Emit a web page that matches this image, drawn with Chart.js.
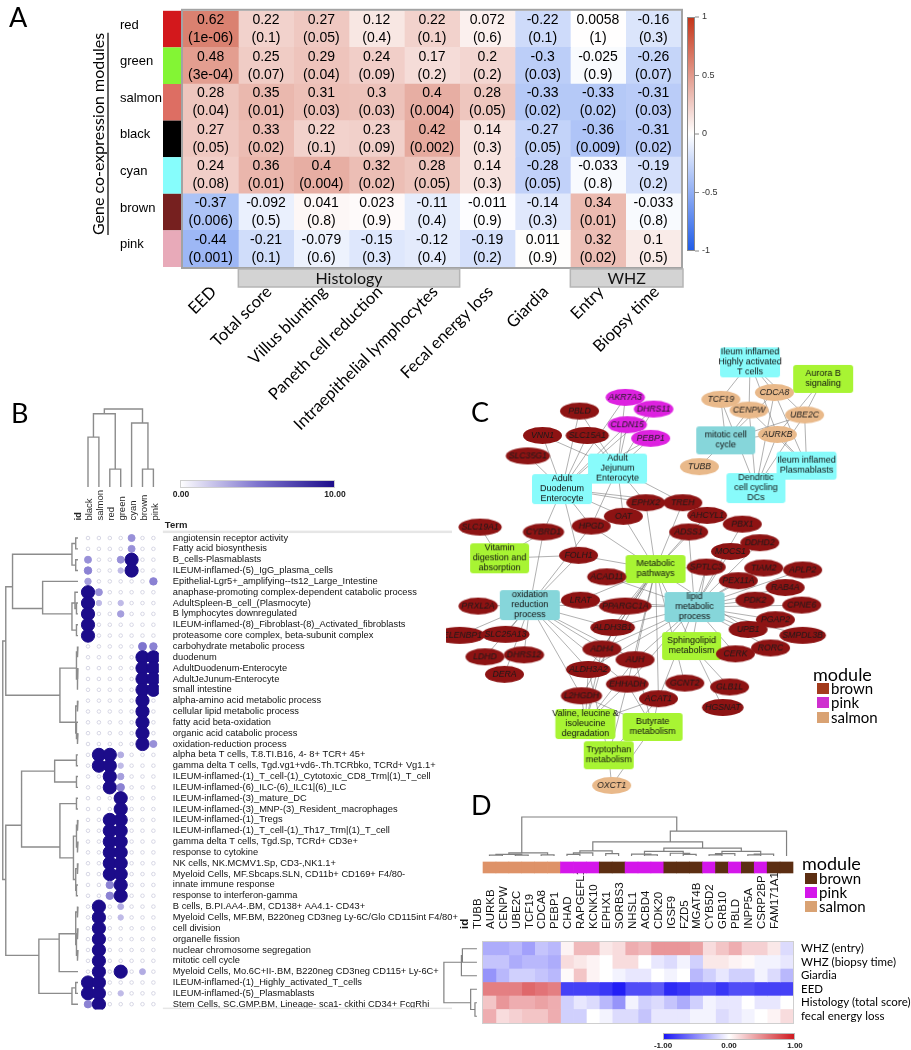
<!DOCTYPE html>
<html><head><meta charset="utf-8">
<script src="https://cdn.jsdelivr.net/npm/chart.js@4.4.1/dist/chart.umd.min.js"></script>
<style>
body{margin:0;background:#fff;width:911px;height:1050px;overflow:hidden;position:relative;font-family:'Liberation Sans',Arial,sans-serif}
canvas{position:absolute}
.lt{position:absolute;font-family:Lato,'Open Sans',sans-serif;color:#000;line-height:1;white-space:nowrap}
.sw{position:absolute;width:12px;height:11px}
</style></head><body>
<canvas id="cA" width="911" height="450" style="left:0px;top:0px"></canvas>
<canvas id="cB" width="460" height="650" style="left:0px;top:400px"></canvas>
<canvas id="cC" width="471" height="480" style="left:440px;top:330px"></canvas>
<canvas id="cD" width="471" height="250" style="left:440px;top:800px"></canvas>

<div class="lt" style="left:9px;top:3px;font-size:27px">A</div>
<div class="lt" style="left:11px;top:399px;font-size:27px">B</div>
<div class="lt" style="left:471px;top:398px;font-size:27px">C</div>
<div class="lt" style="left:471px;top:791px;font-size:27px">D</div>

<div class="lt" style="left:813px;top:665px;font-size:18px">module</div>
<div class="sw" style="left:817px;top:683px;background:#a33b1c"></div><div class="lt" style="left:831px;top:681px;font-size:15px">brown</div>
<div class="sw" style="left:817px;top:697px;background:#cf2fcf"></div><div class="lt" style="left:831px;top:695px;font-size:15px">pink</div>
<div class="sw" style="left:817px;top:712px;background:#d9a273"></div><div class="lt" style="left:831px;top:710px;font-size:15px">salmon</div>

<div class="lt" style="left:802px;top:854px;font-size:18px">module</div>
<div class="sw" style="left:805px;top:873px;background:#5c2e12"></div><div class="lt" style="left:819px;top:871px;font-size:15px">brown</div>
<div class="sw" style="left:805px;top:887px;background:#d416ea"></div><div class="lt" style="left:819px;top:885px;font-size:15px">pink</div>
<div class="sw" style="left:805px;top:901px;background:#d9a273"></div><div class="lt" style="left:819px;top:899px;font-size:15px">salmon</div>

<script>
// ======================= PANEL A DATA =======================
const modulesA = ['red','green','salmon','black','cyan','brown','pink'];
const traitsA = ['EED','Total score','Villus blunting','Paneth cell reduction','Intraepithelial lymphocytes','Fecal energy loss','Giardia','Entry','Biopsy time'];
const corrRed    = [0.62, 0.22, 0.27, 0.12, 0.22, 0.072, -0.22, 0.0058, -0.16];
const corrGreen  = [0.48, 0.25, 0.29, 0.24, 0.17, 0.2, -0.3, -0.025, -0.26];
const corrSalmon = [0.28, 0.35, 0.31, 0.3, 0.4, 0.28, -0.33, -0.33, -0.31];
const corrBlack  = [0.27, 0.33, 0.22, 0.23, 0.42, 0.14, -0.27, -0.36, -0.31];
const corrCyan   = [0.24, 0.36, 0.4, 0.32, 0.28, 0.14, -0.28, -0.033, -0.19];
const corrBrown  = [-0.37, -0.092, 0.041, 0.023, -0.11, -0.011, -0.14, 0.34, -0.033];
const corrPink   = [-0.44, -0.21, -0.079, -0.15, -0.12, -0.19, 0.011, 0.32, 0.1];
const pRed    = ['1e-06','0.1','0.05','0.4','0.1','0.6','0.1','1','0.3'];
const pGreen  = ['3e-04','0.07','0.04','0.09','0.2','0.2','0.03','0.9','0.07'];
const pSalmon = ['0.04','0.01','0.03','0.03','0.004','0.05','0.02','0.02','0.03'];
const pBlack  = ['0.05','0.02','0.1','0.09','0.002','0.3','0.05','0.009','0.02'];
const pCyan   = ['0.08','0.01','0.004','0.02','0.05','0.3','0.05','0.8','0.2'];
const pBrown  = ['0.006','0.5','0.8','0.9','0.4','0.9','0.3','0.01','0.8'];
const pPink   = ['0.001','0.1','0.6','0.3','0.4','0.2','0.9','0.02','0.5'];
const groupNamesA = ['Histology','WHZ'];
const groupStartA = [1, 7];
const groupEndA   = [5, 9];
const colorbarTicksA = [1, 0.5, 0, -0.5, -1];

// ======================= PANEL B DATA =======================
const modulesB = ['black','salmon','red','green','cyan','brown','pink'];
const termsB = [
 'angiotensin receptor activity','Fatty acid biosynthesis','B_cells-Plasmablasts','ILEUM-inflamed-(5)_IgG_plasma_cells',
 'Epithelial-Lgr5+_amplifying--ts12_Large_Intestine','anaphase-promoting complex-dependent catabolic process',
 'AdultSpleen-B_cell_(Plasmocyte)','B lymphocytes downregulated','ILEUM-inflamed-(8)_Fibroblast-(8)_Activated_fibroblasts',
 'proteasome core complex, beta-subunit complex','carbohydrate metabolic process','duodenum','AdultDuodenum-Enterocyte',
 'AdultJeJunum-Enterocyte','small intestine','alpha-amino acid metabolic process','cellular lipid metabolic process',
 'fatty acid beta-oxidation','organic acid catabolic process','oxidation-reduction process',
 'alpha beta T cells, T.8.TI.B16, 4- 8+ TCR+ 45+','gamma delta T cells, Tgd.vg1+vd6-.Th.TCRbko, TCRd+ Vg1.1+',
 'ILEUM-inflamed-(1)_T_cell-(1)_Cytotoxic_CD8_Trm|(1)_T_cell','ILEUM-inflamed-(6)_ILC-(6)_ILC1|(6)_ILC',
 'ILEUM-inflamed-(3)_mature_DC','ILEUM-inflamed-(3)_MNP-(3)_Resident_macrophages','ILEUM-inflamed-(1)_Tregs',
 'ILEUM-inflamed-(1)_T_cell-(1)_Th17_Trm|(1)_T_cell','gamma delta T cells, Tgd.Sp, TCRd+ CD3e+','response to cytokine',
 'NK cells, NK.MCMV1.Sp, CD3-,NK1.1+','Myeloid Cells, MF.Sbcaps.SLN, CD11b+ CD169+ F4/80-','innate immune response',
 'response to interferon-gamma','B cells, B.PI.AA4-.BM, CD138+ AA4.1- CD43+',
 'Myeloid Cells, MF.BM, B220neg CD3neg Ly-6C/Glo CD115int F4/80+','cell division','organelle fission',
 'nuclear chromosome segregation','mitotic cell cycle','Myeloid Cells, Mo.6C+II-.BM, B220neg CD3neg CD115+ Ly-6C+',
 'ILEUM-inflamed-(1)_Highly_activated_T_cells','ILEUM-inflamed-(5)_Plasmablasts',
 'Stem Cells, SC.GMP.BM, Lineage- sca1- ckithi CD34+ FcgRhi'];
const enrichBlack  = [0,0,4,4.5,3.5,10,10,10,10,10, 0,0,0,0,0,0,0,0,0,0, 0,0,0,0,0,0,0,0,0,0, 0,0,0,0,0,0,0,0,0,0, 0,10,10,4.5];
const enrichSalmon = [0,0,0,0,0,4,2.5,0,0,0, 0,0,0,0,0,0,0,0,0,0, 10,10,0,0,0,0,0,0,0,0, 0,0,0,0,10,10,10,10,10,10, 10,10,10,10];
const enrichRed    = [0,0,0,0,0,0,0,0,0,0, 0,0,0,0,0,0,0,0,0,0, 10,10,10,10,0,0,10,10,10,10, 10,10,4.5,4.5,0,0,0,0,0,0, 0,0,0,0];
const enrichGreen  = [0,0,4,2.5,0,0,2.5,3.5,0,0, 0,0,0,0,0,0,0,0,0,0, 3,2.5,3.5,4.5,10,10,10,10,10,10, 10,10,10,10,3,2.5,0,0,0,0, 10,0,2.5,0];
const enrichCyan   = [4,4,10,10,0,0,0,0,0,0, 0,0,0,0,0,0,0,0,0,0, 0,0,0,0,0,0,0,0,0,0, 0,0,0,0,0,0,0,0,0,0, 0,0,0,0];
const enrichBrown  = [0,0,0,0,0,0,0,0,0,0, 5,10,10,10,10,10,10,10,10,10, 0,0,0,0,0,0,0,0,0,0, 0,0,0,0,0,0,0,0,0,0, 3,0,0,0];
const enrichPink   = [0,0,0,0,4.5,0,0,0,0,0, 4.5,10,10,10,10,0,0,0,0,4, 0,0,0,0,0,0,0,0,0,0, 0,0,0,0,0,0,0,0,0,0, 0,0,0,0];
// dendrograms: [height, left, right], leaves are indices
const termTreeB = [1.0,
  [0.96, [0.87, [0.08,[0.03,0,1],[0.03,2,3]], [0.47,4,[0.08,[0.04,5,[0.02,6,7]],[0.02,8,9]]]],
         [0.24, [0.02,[0.01,10,11],[0.01,[0.005,12,13],14]], [0.03,[0.01,15,16],[0.02,17,[0.01,18,19]]]]],
  [0.96, [0.75, [0.31,[0.02,20,21],[0.02,22,23]],
                [0.24,[0.02,24,25],[0.06,[0.02,[0.01,26,27],[0.01,28,29]],[0.03,[0.01,30,31],[0.02,32,33]]]]],
         [0.52, [0.25,[0.03,[0.01,34,35],[0.02,[0.01,36,37],[0.01,38,39]]],40], [0.08,[0.03,41,42],43]]]];
const moduleTreeB = [1.0, [0.94,[0.64,0,1],[0.23,2,3]], [0.82,4,[0.23,5,6]]];

// ======================= PANEL C DATA =======================
const termNames = ['Ileum inflamed\nHighly activated\nT cells','Aurora B\nsignaling','mitotic cell\ncycle','Ileum inflamed\nPlasmablasts',
 'Dendritic\ncell cycling\nDCs','Adult\nJejunum\nEnterocyte','Adult\nDuodenum\nEnterocyte','Vitamin\ndigestion and\nabsorption',
 'Metabolic\npathways','oxidation\nreduction\nprocess','lipid\nmetabolic\nprocess','Sphingolipid\nmetabolism',
 'Valine, leucine &\nisoleucine\ndegradation','Butyrate\nmetabolism','Tryptophan\nmetabolism'];
const termKind = ['cell','path','go','cell','cell','cell','cell','path','path','go','go','path','path','path','path'];
const termX = [752,827,727,810,758,616,559,495,655,526,695,692,583,652,607];
const termY = [357,374,437,463,486,466,487,558,569,606,608,648,728,731,760];
const geneNames = ['TCF19','CDCA8','CENPW','UBE2C','AURKB','TUBB','OXCT1','AKR7A3','DHRS11','CLDN15','PEBP1',
 'PBLD','VNN1','SLC15A1','SLC35G1','EPHX2','TREH','OAT','AHCYL1','HPGD','CYBRD1','SLC19A1','PBX1','ADSS1','DDHD2',
 'MOCS1','FOLH1','SPTLC3','TIAM2','APLP2','ACAD11','PEX11A','RAB4A','LRAT','PPARGC1A','PDK2','CPNE6','PRXL2A',
 'PGAP2','ALDH3B1','UPB1','SMPDL3B','SELENBP1','SLC25A13','ADH4','CERK','RORC','LDHD','DHRS12','AUH','DERA',
 'ALDH3A2','EHHADH','GCNT2','GLB1L','L2HGDH','ACAT1','HGSNAT'];
const geneModule = ['salmon','salmon','salmon','salmon','salmon','salmon','salmon','pink','pink','pink','pink',
 'brown','brown','brown','brown','brown','brown','brown','brown','brown','brown','brown','brown','brown','brown',
 'brown','brown','brown','brown','brown','brown','brown','brown','brown','brown','brown','brown','brown',
 'brown','brown','brown','brown','brown','brown','brown','brown','brown','brown','brown','brown','brown',
 'brown','brown','brown','brown','brown','brown','brown'];
const geneX = [722,777,751,808,780,700,610,624,653,626,650,577,539,585,524,645,683,622,708,589,540,475,744,689,762,
 732,576,707,766,806,605,740,788,578,624,757,805,473,778,611,750,806,454,501,600,737,773,480,520,634,500,586,626,685,731,579,658,724];
const geneY = [395,388,406,411,431,464,791,393,405,421,435,407,432,432,453,501,501,515,514,525,531,526,523,531,542,
 551,555,567,568,570,577,581,588,601,607,601,606,607,621,629,631,637,637,636,651,656,650,659,657,662,677,672,687,686,690,699,702,711];
const termLinks = [
 ['TCF19','CENPW','CDCA8','AURKB','UBE2C'],
 ['UBE2C','AURKB'],
 ['TCF19','CENPW','CDCA8','AURKB','UBE2C','TUBB'],
 ['CDCA8','UBE2C','AURKB','CENPW'],
 ['TCF19','CENPW','CDCA8','AURKB','UBE2C'],
 ['AKR7A3','DHRS11','CLDN15','PEBP1','SLC15A1','PBLD','HPGD','OAT','EPHX2','TREH','VNN1'],
 ['AKR7A3','DHRS11','CLDN15','PEBP1','SLC15A1','PBLD','VNN1','SLC35G1','CYBRD1','HPGD','FOLH1','OAT','EPHX2','TREH'],
 ['SLC19A1','CYBRD1','FOLH1'],
 ['EPHX2','OAT','HPGD','TREH','AHCYL1','ADSS1','FOLH1','ACAD11','SPTLC3','PPARGC1A','ALDH3B1','ADH4','AUH','ALDH3A2','EHHADH','ACAT1','L2HGDH','GCNT2','UPB1','LRAT','HGSNAT'],
 ['PRXL2A','SELENBP1','SLC25A13','LDHD','DHRS12','DERA','CYBRD1','HPGD','FOLH1','ALDH3B1','ADH4','ALDH3A2','EHHADH','L2HGDH','AUH','PPARGC1A','LRAT'],
 ['PBX1','DDHD2','MOCS1','SPTLC3','TIAM2','APLP2','PEX11A','RAB4A','PDK2','CPNE6','PGAP2','UPB1','SMPDL3B','CERK','RORC','ACAD11','PPARGC1A','ALDH3B1','ADH4','AUH','EHHADH','ACAT1','ALDH3A2','LRAT','ADSS1'],
 ['SPTLC3','CERK','GLB1L'],
 ['ALDH3A2','EHHADH','AUH','ACAT1','ALDH3B1','ADH4','L2HGDH'],
 ['EHHADH','ACAT1','L2HGDH','AUH','OXCT1'],
 ['EHHADH','ACAT1','ALDH3A2','OXCT1']];

// ======================= PANEL D DATA =======================
const genesD = ['TUBB','AURKB','CENPW','UBE2C','TCF19','CDCA8','PEBP1','CHAD','RAPGEFL1','KCNK10','EPHX1','SORBS3','NHSL1','ACBD4','CDK20','IGSF9','FZD5','MGAT4B','CYB5D2','GRB10','PBLD','INPP5A','CSRP2BP','FAM171A1'];
const moduleD = ['salmon','salmon','salmon','salmon','salmon','salmon','pink','pink','pink','brown','brown','pink','pink','pink','brown','brown','brown','pink','brown','pink','brown','pink','brown','brown'];
const rowsD = ['WHZ (entry)','WHZ (biopsy time)','Giardia','EED','Histology (total score)','fecal energy loss'];
const hmWhzEntry  = [-0.35,-0.35,-0.3,-0.4,-0.25,-0.3, 0.05,0.3,0.3,0.1,0.15,0.35,0.3,0.45,0.45,0.45,0.4,0.15,0.25,0.35,0.2,0.2,0.1,-0.15];
const hmWhzBiopsy = [-0.25,-0.25,-0.35,-0.3,-0.3,-0.35, 0.15,0.1,0.05,0.0,0.15,0.15,0.0,-0.1,-0.15,-0.05,-0.2,0.1,0.1,0.05,0.02,-0.05,-0.05,-0.1];
const hmGiardia   = [-0.45,-0.3,-0.2,-0.2,-0.25,-0.3, 0.02,0.25,0.05,0.0,-0.05,-0.1,-0.1,0.0,-0.05,0.0,-0.3,-0.2,-0.1,-0.2,-0.2,-0.05,-0.15,-0.3];
const hmEED       = [0.55,0.55,0.55,0.65,0.6,0.55, -0.8,-0.8,-0.8,-0.85,-0.95,-0.75,-0.75,-0.7,-0.9,-0.85,-0.75,-0.75,-0.85,-0.75,-0.75,-0.8,-0.8,-0.8];
const hmHistology = [0.25,0.45,0.35,0.35,0.4,0.35, -0.2,-0.1,-0.15,-0.3,-0.45,-0.05,-0.2,-0.15,-0.25,-0.35,-0.2,-0.05,-0.1,-0.1,0.0,-0.1,-0.1,0.0];
const hmFecal     = [0.35,0.15,0.2,0.25,0.25,0.35, -0.2,-0.2,0.0,-0.05,-0.15,-0.15,-0.25,-0.1,-0.1,-0.1,-0.05,-0.05,-0.15,-0.1,-0.05,0.0,0.05,0.15];
const geneTreeD = [1.0,
  [0.08,[0.04,[0.02,0,1],[0.02,2,3]],[0.03,4,5]],
  [0.64,[0.36,[0.13,[0.08,[0.04,6,7],8],[0.06,9,10]],
              [0.2,[0.12,[0.05,11,[0.03,12,13]],[0.07,14,[0.04,15,16]]],
                   [0.12,[0.06,[0.03,17,18],19],[0.05,[0.03,20,21],22]]]],23]];
const rowTreeD = [1.0,[0.47,[0.44,0,1],2],[0.19,3,[0.06,4,5]]];
const colorbarTicksD = [-1, 0, 1];

// ======================= STYLE / HELPERS =======================
const swatchA = {red:'#d3181c',green:'#83f534',salmon:'#dd6e63',black:'#000000',cyan:'#86fdfc',brown:'#76201f',pink:'#e8aab9'};
const moduleColC = {brown:'#8d1313',pink:'#dd22e0',salmon:'#e9b98a'};
const moduleColD = {brown:'#5c2e12',pink:'#d416ea',salmon:'#de9268'};
const termFill = {cell:'#88fbfb',go:'#86d6da',path:'#a8f433'};
const termBoxW = [60,60,59,60,59,59,60,59,60,60,60,59,60,60,50];

const corrA = [corrRed,corrGreen,corrSalmon,corrBlack,corrCyan,corrBrown,corrPink];
const pA = [pRed,pGreen,pSalmon,pBlack,pCyan,pBrown,pPink];
const enrichB = [enrichBlack,enrichSalmon,enrichRed,enrichGreen,enrichCyan,enrichBrown,enrichPink];
const hmD = [hmWhzEntry,hmWhzBiopsy,hmGiardia,hmEED,hmHistology,hmFecal];

function lerp(a,b,t){return a.map((v,i)=>Math.round(v+(b[i]-v)*t));}
function rgb(c){return `rgb(${c[0]},${c[1]},${c[2]})`;}
function colA(v){const t=Math.min(1,Math.abs(v));return rgb(lerp([255,255,255], v>=0?[196,52,24]:[32,92,232], t));}
function colD(v){const t=Math.min(1,Math.abs(v));return rgb(lerp([255,255,255], v>=0?[206,22,28]:[22,18,244], t));}
function colB(v){const t=Math.min(1,v/10);const mid=[126,116,206],end=[28,12,138];
  return t<=0.5?rgb(lerp([255,255,255],mid,t/0.5)):rgb(lerp(mid,end,(t-0.5)/0.5));}
function rB(v){return v>0?1.4+0.52*v:1.8;}

function dendroPoints(tree, leafPos, hPos, vertical){
  const pts=[];
  const P=(l,h)=> vertical?{x:l,y:hPos(h)}:{x:hPos(h),y:l};
  (function walk(n){
    if(typeof n==='number') return {p:leafPos(n),h:0,s:leafPos(n),k:1};
    const [h,a,b]=n; const A=walk(a), B=walk(b);
    pts.push(P(A.p,A.h),P(A.p,h),P(B.p,h),P(B.p,B.h),{x:null,y:null});
    const s=A.s+B.s,k=A.k+B.k; return {p:s/k,h,s,k};
  })(tree);
  return pts;
}

Chart.defaults.font.family = "'Liberation Sans', Arial, sans-serif";
Chart.defaults.color = '#000';

// ======================= CHART A =======================
const pluginA = {
  id:'pA',
  afterDatasetsDraw(chart){
    const ctx=chart.ctx;
    ctx.save();
    ctx.fillStyle='#000'; ctx.font="14px 'Liberation Sans'"; ctx.textAlign='center'; ctx.textBaseline='middle';
    traitsA.forEach((t,c)=>{
      const meta=chart.getDatasetMeta(c);
      modulesA.forEach((m,r)=>{
        const pt=meta.data[r].getCenterPoint();
        ctx.fillText(String(corrA[r][c]), pt.x, pt.y-9);
        ctx.fillText('('+pA[r][c]+')', pt.x, pt.y+9);
      });
    });
    ctx.restore();
  },
  afterDraw(chart){
    const {ctx, chartArea:ca, scales:{x,y}}=chart;
    ctx.save();
    const band=(ca.bottom-ca.top)/modulesA.length;
    modulesA.forEach((m,r)=>{const yc=y.getPixelForValue(r); ctx.fillStyle=swatchA[m]; ctx.fillRect(ca.left-20, yc-band/2, 18, band);});
    ctx.strokeStyle='#a3a3a3'; ctx.lineWidth=2; ctx.strokeRect(ca.left-1, ca.top-1, ca.right-ca.left+2, ca.bottom-ca.top+2);
    groupNamesA.forEach((g,i)=>{
      const x0=x.getPixelForValue(groupStartA[i]), x1=x.getPixelForValue(groupEndA[i])+(i===1?2:0);
      ctx.fillStyle='#d3d3d3'; ctx.fillRect(x0, ca.bottom+2, x1-x0, 18);
      ctx.strokeStyle='#b5b5b5'; ctx.lineWidth=1.5; ctx.strokeRect(x0, ca.bottom+2, x1-x0, 18);
      ctx.fillStyle='#111'; ctx.font="16px Lato"; ctx.textAlign='center'; ctx.textBaseline='middle';
      ctx.fillText(g,(x0+x1)/2, ca.bottom+11.5);
    });
    ctx.save(); ctx.translate(99,(ca.top+ca.bottom)/2-5); ctx.rotate(-Math.PI/2);
    ctx.font="16px Lato"; ctx.fillStyle='#000'; ctx.textAlign='center'; ctx.textBaseline='middle';
    const ttl='Gene co-expression modules'; ctx.fillText(ttl,0,0);
    const w=ctx.measureText(ttl).width; ctx.strokeStyle='#000'; ctx.lineWidth=1.2;
    ctx.beginPath(); ctx.moveTo(-w/2,9); ctx.lineTo(w/2,9); ctx.stroke(); ctx.restore();
    const cx=ca.right+6, cy0=17, cy1=251;
    const gr=ctx.createLinearGradient(0,cy0,0,cy1);
    for(let i=0;i<=20;i++){gr.addColorStop(i/20, colA(1-i/10));}
    ctx.fillStyle=gr; ctx.fillRect(cx,cy0,8,cy1-cy0);
    ctx.strokeStyle='#8a8a8a'; ctx.lineWidth=1; ctx.strokeRect(cx+0.5,cy0+0.5,7,cy1-cy0-1);
    ctx.font="9px 'Liberation Sans'"; ctx.fillStyle='#333'; ctx.textAlign='left'; ctx.textBaseline='middle';
    colorbarTicksA.forEach(v=>{const py=cy0+(1-v)/2*(cy1-cy0);
      ctx.beginPath(); ctx.moveTo(cx+8,py); ctx.lineTo(cx+12,py); ctx.stroke();
      ctx.fillText(String(v), cx+15, py);});
    ctx.restore();
  }
};
new Chart(document.getElementById('cA'), {
  type:'bar',
  data:{labels:modulesA,
    datasets:traitsA.map((t,c)=>({label:t, data:modulesA.map(()=>[c,c+1]),
      backgroundColor:modulesA.map((m,r)=>colA(corrA[r][c])), borderWidth:0, grouped:false,
      barPercentage:1, categoryPercentage:1}))},
  options:{indexAxis:'y', responsive:false, animation:false, events:[],
    layout:{padding:{left:120, top:3, right:230, bottom:0}},
    plugins:{legend:{display:false}, tooltip:{enabled:false}},
    scales:{
      x:{type:'linear', min:0, max:9, position:'bottom', grid:{display:false}, border:{display:false},
        afterBuildTicks:(ax)=>{ax.ticks=traitsA.map((t,i)=>({value:i+0.5}));},
        afterFit:(ax)=>{ax.height=183;},
        ticks:{autoSkip:false, minRotation:45, maxRotation:45, padding:7, labelOffset:3, color:'#000',
          font:{family:'Lato', size:16.5}, callback:(v,i)=>traitsA[i]}},
      y:{type:'category', position:'left', grid:{display:false}, border:{display:false},
        afterFit:(ax)=>{ax.width=63;},
        ticks:{crossAlign:'far', color:'#000', font:{family:'Liberation Sans', size:13}, labelOffset:-4}}
    }},
  plugins:[pluginA]
});

// ======================= CHART B =======================
const bubbleData=[];
const bubbleBg=[], bubbleBorder=[];
termsB.forEach((t,r)=>modulesB.forEach((m,c)=>{
  const v=enrichB[c][r];
  bubbleData.push({x:c, y:r, r:rB(v)});
  bubbleBg.push(v>0?colB(v):'#ffffff');
  bubbleBorder.push(v>0?colB(v):'#d6d6e4');
}));
const colLabelsB=['id'].concat(modulesB);
const pluginB={id:'pB', afterDraw(chart){
  const {ctx, chartArea:ca}=chart; ctx.save();
  const g=ctx.createLinearGradient(180,0,335,0); for(let i=0;i<=10;i++) g.addColorStop(i/10,colB(i));
  ctx.fillStyle=g; ctx.fillRect(180,80,155,8); ctx.strokeStyle='#cfcfcf'; ctx.lineWidth=1; ctx.strokeRect(180.5,80.5,154,7);
  ctx.font="bold 8.5px 'Liberation Sans'"; ctx.fillStyle='#222'; ctx.textAlign='center'; ctx.textBaseline='middle';
  ctx.fillText('0.00',181,95); ctx.fillText('10.00',335,95);
  ctx.font="bold 9.5px 'Liberation Sans'"; ctx.textAlign='left'; ctx.fillText('Term', ca.right+6, ca.top-7);
  ctx.fillStyle='#e6e6e6'; ctx.fillRect(ca.right+4, ca.top-2, 452-ca.right-4, 2.5);
  ctx.fillRect(ca.right+4, ca.bottom-2, 452-ca.right-4, 1.5);
  ctx.restore();
}};
new Chart(document.getElementById('cB'), {
  type:'bubble',
  data:{datasets:[
    {type:'bubble', data:bubbleData, backgroundColor:bubbleBg, borderColor:bubbleBorder, borderWidth:1},
    {type:'line', data:dendroPoints(termTreeB, r=>r, h=>-0.92-h*6.9, false), borderColor:'#8c8c8c', borderWidth:1.4, pointRadius:0, clip:false, spanGaps:false, fill:false},
    {type:'line', data:dendroPoints(moduleTreeB, c=>c, h=>-4.7-h*7.2, true), borderColor:'#8c8c8c', borderWidth:1.4, pointRadius:0, clip:false, spanGaps:false, fill:false}
  ]},
  options:{responsive:false, animation:false, events:[],
    layout:{padding:{left:71.65, top:0, right:0, bottom:40.4}},
    plugins:{legend:{display:false}, tooltip:{enabled:false}},
    scales:{
      x:{type:'linear', min:-1.5, max:6.5, position:'top', grid:{display:false}, border:{display:false},
        afterBuildTicks:(ax)=>{ax.ticks=colLabelsB.map((l,i)=>({value:i-1}));},
        afterFit:(ax)=>{ax.height=132.6;},
        ticks:{autoSkip:false, minRotation:90, maxRotation:90, padding:4, labelOffset:13, color:'#222',
          font:(ctx)=>({size:9.5, weight: ctx.index===0?'bold':'normal'}), callback:(v,i)=>colLabelsB[i]}},
      y:{type:'linear', min:-0.5, max:43.5, reverse:true, position:'right', grid:{display:false}, border:{display:false},
        afterBuildTicks:(ax)=>{ax.ticks=termsB.map((t,i)=>({value:i}));},
        afterFit:(ax)=>{ax.width=301.15;},
        ticks:{autoSkip:false, padding:6, color:'#111', font:{size:9.3}, callback:(v,i)=>termsB[i]}}
    }},
  plugins:[pluginB]
});

// ======================= CHART C =======================
function geneImage(name, fill){
  const f="italic 8.7px 'Liberation Sans'";
  const m=document.createElement('canvas').getContext('2d'); m.font=f;
  const tw=m.measureText(name).width; const W=Math.max(39,tw+6), H=17;
  const c=document.createElement('canvas'); c.width=Math.ceil(W+2); c.height=H+2;
  const g=c.getContext('2d'); g.fillStyle=fill;
  g.beginPath(); g.ellipse(c.width/2,c.height/2,W/2,H/2,0,0,Math.PI*2); g.fill();
  g.font=f; g.fillStyle='#1a1a1a'; g.textAlign='center'; g.textBaseline='middle'; g.fillText(name,c.width/2,c.height/2+0.5);
  return c;
}
function termImage(text, fill, boxW){
  const lines=text.split('\n'); const f="9px 'Liberation Sans'";
  const m=document.createElement('canvas').getContext('2d'); m.font=f;
  const tw=Math.max(...lines.map(l=>m.measureText(l).width));
  const H=lines.length>2?30:28; const W=Math.max(boxW,tw+2);
  const c=document.createElement('canvas'); c.width=Math.ceil(W+2); c.height=H+2;
  const g=c.getContext('2d'); g.fillStyle=fill;
  const x0=(c.width-boxW)/2; g.beginPath(); g.roundRect(x0,1,boxW,H,3); g.fill();
  g.font=f; g.fillStyle='#111'; g.textAlign='center'; g.textBaseline='middle';
  const lh=10; lines.forEach((l,i)=>g.fillText(l,c.width/2,c.height/2+(i-(lines.length-1)/2)*lh));
  return c;
}
const nodeData=[], nodeStyles=[];
termNames.forEach((t,i)=>{nodeData.push({x:termX[i],y:termY[i]}); nodeStyles.push(termImage(t,termFill[termKind[i]],termBoxW[i]));});
geneNames.forEach((gname,i)=>{nodeData.push({x:geneX[i],y:geneY[i]}); nodeStyles.push(geneImage(gname,moduleColC[geneModule[i]]));});
const edgePts=[];
termLinks.forEach((links,i)=>links.forEach(gn=>{const j=geneNames.indexOf(gn);
  edgePts.push({x:termX[i],y:termY[i]},{x:geneX[j],y:geneY[j]},{x:null,y:null});}));
new Chart(document.getElementById('cC'), {
  type:'scatter',
  data:{datasets:[
    {type:'scatter', data:nodeData, pointStyle:nodeStyles, pointRadius:5, order:0},
    {type:'line', data:edgePts, borderColor:'rgba(105,105,105,0.65)', borderWidth:0.8, pointRadius:0, spanGaps:false, fill:false, order:1}
  ]},
  options:{responsive:false, animation:false, events:[],
    layout:{padding:0},
    plugins:{legend:{display:false}, tooltip:{enabled:false}},
    scales:{x:{type:'linear', min:440, max:911, display:false}, y:{type:'linear', min:330, max:810, reverse:true, display:false}}}
});

// ======================= CHART D =======================
const colLabelsD=['id'].concat(genesD);
const dDatasets=genesD.map((gname,c)=>({type:'bar', indexAxis:'y', label:gname,
  data:rowsD.map((r,i)=>({x:[c,c+1], y:i+0.5})), backgroundColor:rowsD.map((r,i)=>colD(hmD[i][c])),
  borderWidth:0, grouped:false, barPercentage:1, categoryPercentage:1}));
dDatasets.push({type:'bar', indexAxis:'y', label:'module', data:genesD.map((g,c)=>({x:[c,c+1], y:-5.52})),
  backgroundColor:moduleD.map(m=>moduleColD[m]), borderWidth:0, grouped:false, barThickness:11, clip:false});
dDatasets.push({type:'line', indexAxis:'x', data:dendroPoints(geneTreeD, c=>c+0.5, h=>-6.37-h*2.89, true),
  borderColor:'#808080', borderWidth:1.2, pointRadius:0, clip:false, spanGaps:false, fill:false});
dDatasets.push({type:'line', indexAxis:'x', data:dendroPoints(rowTreeD, r=>r+0.5, h=>-0.47-h*2.56, false),
  borderColor:'#808080', borderWidth:1.2, pointRadius:0, clip:false, spanGaps:false, fill:false});
const pluginD={id:'pD', afterDraw(chart){
  const {ctx, chartArea:ca}=chart; ctx.save();
  ctx.strokeStyle='#cfcfcf'; ctx.lineWidth=1; ctx.strokeRect(ca.left+12.9-0.5, ca.top-0.5, ca.right-ca.left-12.9+1, ca.bottom-ca.top+1);
  const x0=223, x1=355, y0=233;
  const g=ctx.createLinearGradient(x0,0,x1,0); for(let i=0;i<=20;i++) g.addColorStop(i/20,colD(-1+i/10));
  ctx.fillStyle=g; ctx.fillRect(x0,y0,x1-x0,7); ctx.strokeStyle='#bbb'; ctx.strokeRect(x0+0.5,y0+0.5,x1-x0-1,6);
  ctx.font="bold 8px 'Liberation Sans'"; ctx.fillStyle='#222'; ctx.textAlign='center'; ctx.textBaseline='middle';
  colorbarTicksD.forEach(v=>ctx.fillText(v.toFixed(2), x0+(v+1)/2*(x1-x0), y0+13));
  ctx.restore();
}};
new Chart(document.getElementById('cD'), {
  type:'bar',
  data:{datasets:dDatasets},
  options:{responsive:false, animation:false, events:[],
    layout:{padding:{left:30.1, top:0, right:0, bottom:27}},
    plugins:{legend:{display:false}, tooltip:{enabled:false}},
    scales:{
      x:{type:'linear', min:-1, max:24, position:'top', offset:false, grid:{display:false}, border:{display:false},
        afterBuildTicks:(ax)=>{ax.ticks=colLabelsD.map((l,i)=>({value:i-0.5}));},
        afterFit:(ax)=>{ax.height=142;},
        ticks:{autoSkip:false, minRotation:90, maxRotation:90, padding:5, labelOffset:2, color:'#111',
          font:(ctx)=>({size:11.5, weight: ctx.index===0?'bold':'normal'}), callback:(v,i)=>colLabelsD[i]}},
      y:{type:'linear', min:0, max:6, reverse:true, offset:false, position:'right', grid:{display:false}, border:{display:false},
        afterBuildTicks:(ax)=>{ax.ticks=rowsD.map((r,i)=>({value:i+0.5}));},
        afterFit:(ax)=>{ax.width=118;},
        ticks:{autoSkip:false, padding:0, color:'#000', font:{family:'Lato', size:11.5}, callback:(v,i)=>rowsD[i]}}
    }},
  plugins:[pluginD]
});
</script>
</body></html>
